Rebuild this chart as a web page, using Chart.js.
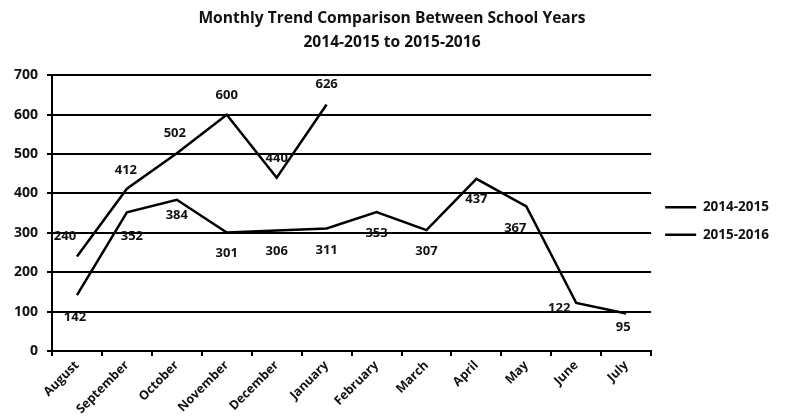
<!DOCTYPE html>
<html>
<head>
<meta charset="utf-8">
<title>Monthly Trend Comparison</title>
<script src="https://cdn.jsdelivr.net/npm/chart.js@4/dist/chart.umd.min.js"></script>
<style>
    html, body { margin: 0; padding: 0; background: #ffffff; }
    #wrap { width: 788px; height: 416px; position: relative; }
</style>
</head>
<body>
<div id="wrap"><canvas id="trend-chart"></canvas></div>
<script>
// Chart data
const months = ['August', 'September', 'October', 'November', 'December', 'January',
                'February', 'March', 'April', 'May', 'June', 'July'];
const year1415 = [142, 352, 384, 301, 306, 311, 353, 307, 437, 367, 122, 95];
const year1516 = [240, 412, 502, 600, 440, 626];
const titleLines = ['Monthly Trend Comparison Between School Years', '2014-2015 to 2015-2016'];

// Where each value label sits relative to its point (dx, dy)
const labelShift1415 = [[-2, 22], [5, 24], [0, 16], [0, 21], [0, 21], [0, 22],
                        [0, 21], [0, 21], [0, 20], [-11, 22], [-17, 5], [-3, 14]];
const labelShift1516 = [[-12, -20], [-1, -18], [-2, -20], [0, -19], [0, -19], [0, -20]];

const FONT = '"Open Sans", "DejaVu Sans", sans-serif';

// Simple value labels, drawn after the lines
const valueLabels = {
    id: 'valueLabels',
    afterDatasetsDraw(chart) {
        const ctx = chart.ctx;
        ctx.save();
        ctx.font = 'bold 13px ' + FONT;
        ctx.fillStyle = '#111111';
        ctx.textAlign = 'center';
        ctx.textBaseline = 'middle';
        chart.data.datasets.forEach((ds, di) => {
            const meta = chart.getDatasetMeta(di);
            meta.data.forEach((pt, i) => {
                const shift = ds.labelShift[i] || [0, -15];
                ctx.fillText(String(ds.data[i]), pt.x + shift[0], pt.y + shift[1]);
            });
        });
        ctx.restore();
    }
};

document.addEventListener('DOMContentLoaded', function() {
    const ctx = document.getElementById('trend-chart').getContext('2d');

    new Chart(ctx, {
        type: 'line',
        data: {
            labels: months,
            datasets: [
                {
                    label: '2014-2015',
                    data: year1415,
                    labelShift: labelShift1415,
                    borderColor: '#000000',
                    backgroundColor: '#000000',
                    borderWidth: 2.5,
                    pointRadius: 0,
                    tension: 0
                },
                {
                    label: '2015-2016',
                    data: year1516,
                    labelShift: labelShift1516,
                    borderColor: '#000000',
                    backgroundColor: '#000000',
                    borderWidth: 2.5,
                    pointRadius: 0,
                    tension: 0
                }
            ]
        },
        options: {
            responsive: true,
            maintainAspectRatio: false,
            animation: false,
            layout: {
                padding: { left: 5, right: 9, top: 4, bottom: 0 }
            },
            plugins: {
                title: {
                    display: true,
                    text: titleLines,
                    color: '#111111',
                    font: { family: FONT, size: 15.6, weight: 'bold', lineHeight: 1.55 },
                    padding: { top: 2, bottom: 21 }
                },
                legend: {
                    position: 'right',
                    title: {
                        display: true,
                        text: '',
                        font: { size: 10, lineHeight: 1 },
                        padding: 6
                    },
                    labels: {
                        color: '#111111',
                        font: { family: FONT, size: 13.5, weight: 'bold' },
                        usePointStyle: true,
                        pointStyle: 'line',
                        pointStyleWidth: 31,
                        padding: 14
                    }
                },
                tooltip: { enabled: false }
            },
            scales: {
                x: {
                    offset: true,
                    border: { color: '#000000', width: 2 },
                    grid: {
                        display: true,
                        offset: true,
                        drawOnChartArea: false,
                        drawTicks: true,
                        tickLength: 5,
                        color: '#000000',
                        lineWidth: 2
                    },
                    ticks: {
                        color: '#111111',
                        font: { family: FONT, size: 12.5, weight: 'bold' },
                        minRotation: 45,
                        maxRotation: 45,
                        autoSkip: false,
                        padding: 2
                    },
                    afterFit(scale) {
                        scale.height = 65;
                    }
                },
                y: {
                    min: 0,
                    max: 700,
                    border: { color: '#000000', width: 2 },
                    grid: {
                        color: '#000000',
                        lineWidth: 2,
                        tickLength: 5
                    },
                    ticks: {
                        stepSize: 100,
                        color: '#111111',
                        font: { family: FONT, size: 14, weight: 'bold' },
                        padding: 9
                    }
                }
            }
        },
        plugins: [valueLabels]
    });
});
</script>
</body>
</html>
